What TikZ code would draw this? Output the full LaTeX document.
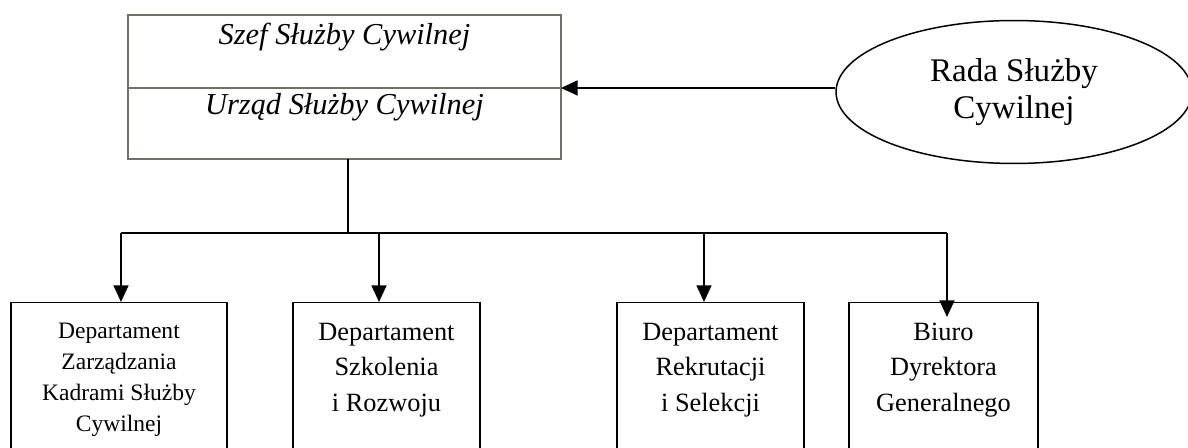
\documentclass[tikz,border=0pt]{standalone}
\usepackage{fontspec}
\setmainfont{Liberation Serif}
\usetikzlibrary{shapes.geometric, arrows.meta, positioning}
\definecolor{framegray}{RGB}{112,112,100}
\tikzset{
  rowbox/.style={draw=framegray, line width=0.9pt, minimum width=8.66cm, inner sep=0pt, outer sep=0pt, font=\fontsize{17.3}{20}\selectfont\itshape},
  deptbox/.style={draw, line width=0.85pt, anchor=north, minimum height=3.4cm},
  depttext/.style={align=center, inner sep=0pt, outer sep=0pt, font=\fontsize{15}{20.2}\selectfont},
  conn/.style={line width=1.1pt},
  arr/.style={conn, -{Triangle[length=9.5pt, width=8.5pt]}}
}

\begin{document}
\begin{tikzpicture}[x=0.02cm, y=-0.02cm]
  \useasboundingbox (0,0) rectangle (1188,448);
  % urzad
  \node[rowbox, anchor=north, text height=0.6cm, text depth=0.86cm] (szef) at (344.5,15) {Szef Służby Cywilnej};
  \node[rowbox, below=0pt of szef, text height=0.54cm, text depth=0.88cm] (urzad) {Urząd Służby Cywilnej};
  % rada
  \node[ellipse, draw, line width=0.85pt, minimum width=7.12cm, minimum height=2.86cm, align=center, font=\fontsize{18.8}{21}\selectfont] (rada) at (1014,92) {Rada Służby\\Cywilnej};
  \draw[arr] (rada.west |- szef.south) -- (szef.south east);
  % departamenty
  \node[deptbox, minimum width=4.32cm] (dzk) at (119,302) {};
  \node[deptbox, minimum width=3.74cm] (dsr) at (386.5,302) {};
  \node[deptbox, minimum width=3.74cm] (drs) at (710.5,302) {};
  \node[deptbox, minimum width=3.78cm] (bdg) at (943.5,302) {};
  \node[depttext, below=0.42cm of dzk.north, font=\fontsize{13.4}{17.6}\selectfont] (tdzk) {Departament\\Zarządzania\\Kadrami Służby\\Cywilnej};
  \node[depttext, below=0.42cm of dsr.north] (tdsr) {Departament\\Szkolenia\\i Rozwoju};
  \node[depttext, below=0.42cm of drs.north] (tdrs) {Departament\\Rekrutacji\\i Selekcji};
  \node[depttext, below=0.42cm of bdg.north] (tbdg) {Biuro\\Dyrektora\\Generalnego};
  % polaczenia
  \coordinate (bus) at (348,233);
  \coordinate (j1) at (121,233);
  \coordinate (j2) at (379,233);
  \coordinate (j3) at (704,233);
  \coordinate (j4) at (947,233);
  \draw[conn] (urzad.south -| bus) -- (bus);
  \draw[conn] (j1) -- (j4);
  \foreach \j/\b in {j1/dzk, j2/dsr, j3/drs}
    \draw[arr] (\j) -- (\j |- \b.north);
  \draw[arr] (j4) -- ([yshift=-0.3cm]j4 |- bdg.north);
\end{tikzpicture}
\end{document}
